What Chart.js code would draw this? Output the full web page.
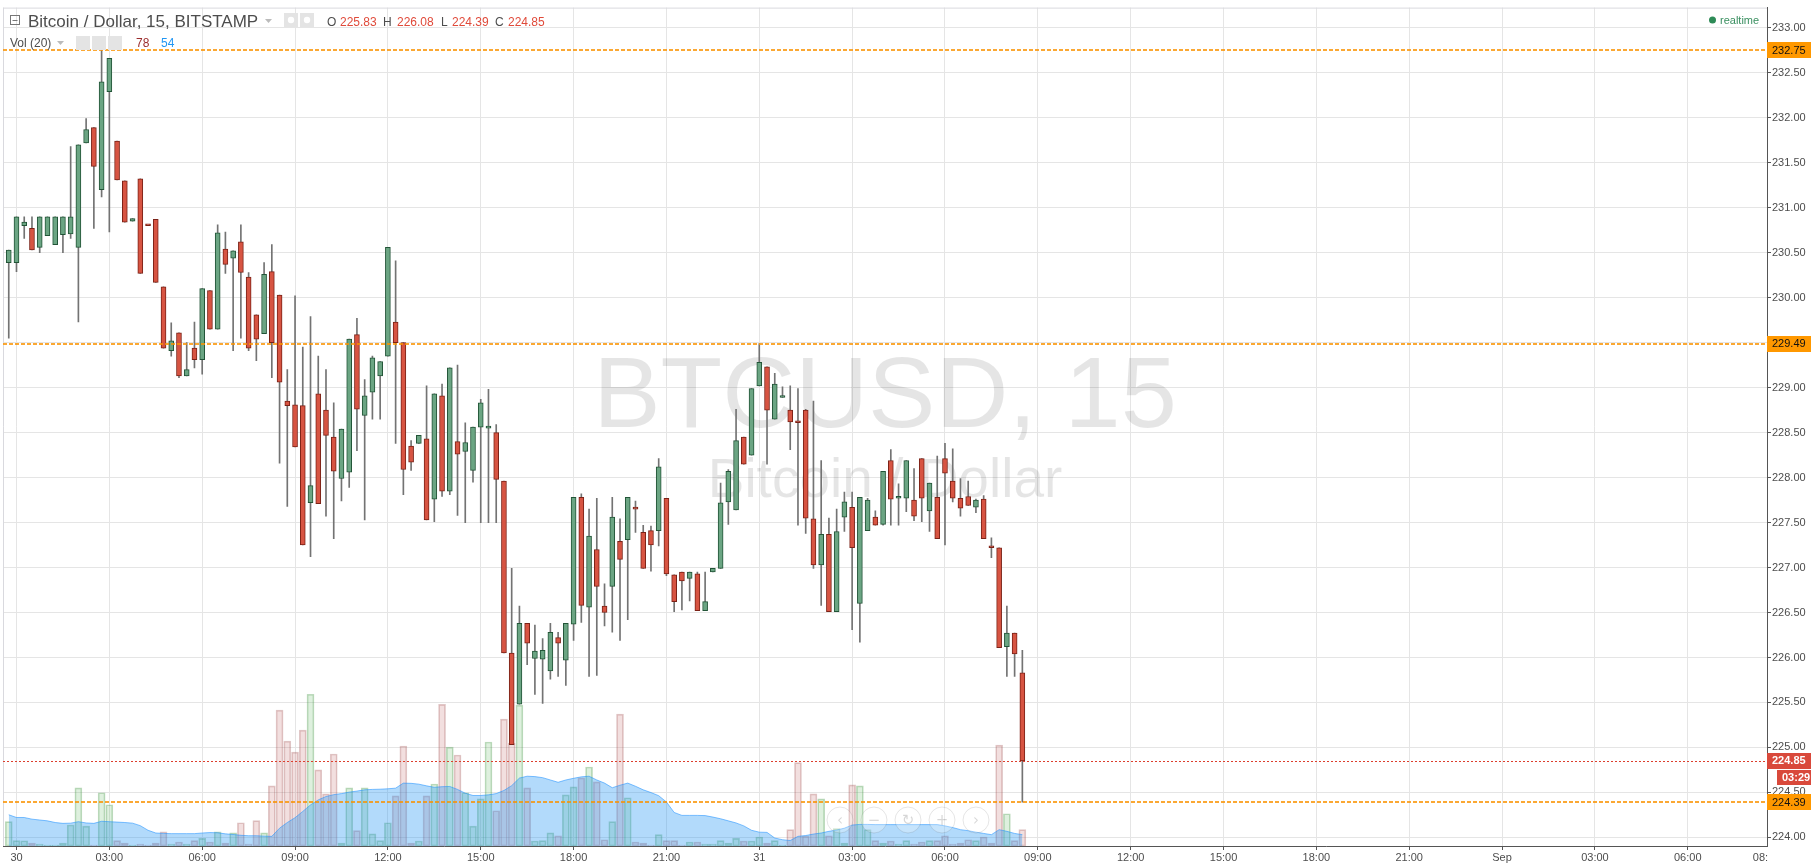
<!DOCTYPE html>
<html>
<head>
<meta charset="utf-8">
<title>BTCUSD, 15</title>
<script src="https://cdn.jsdelivr.net/npm/chart.js@4.4.1/dist/chart.umd.min.js"></script>
<style>
html,body{margin:0;padding:0;background:#fff;overflow:hidden}
#wrap{position:relative;width:1815px;height:863px}
</style>
</head>
<body>
<div id="wrap"><canvas id="chart" width="1815" height="863"></canvas></div>
<script>
// -------- DATA ----------
// 15 minute bars, first bar opens at 29 Aug 23:45 (hours counted from 30 Aug 00:00)
const firstBarHour = -0.25;
const barStepHours = 0.25;

const opens = [230.39,230.39,230.80,230.77,230.56,230.69,230.59,230.70,230.71,230.56,
  231.72,231.89,231.20,232.29,231.74,231.30,230.85,231.32,230.81,230.87,
  230.12,229.41,229.61,229.13,229.44,229.31,230.08,229.65,230.54,230.44,
  230.62,230.23,229.81,229.60,230.29,230.03,228.85,228.81,228.80,227.72,
  228.93,228.75,228.45,227.99,228.06,229.59,228.69,228.95,229.13,229.35,
  229.73,229.50,228.35,228.38,228.43,227.76,228.91,227.85,228.40,228.29,
  228.08,228.56,228.55,228.50,227.96,226.05,225.48,226.38,225.99,225.98,
  225.85,226.22,225.97,226.37,227.78,226.56,227.20,226.57,226.79,227.29,
  227.31,227.67,227.39,227.41,227.41,227.77,226.92,226.95,226.88,226.93,
  226.52,226.95,226.99,227.73,227.64,228.45,228.25,229.02,229.23,228.65,
  228.89,228.75,228.62,228.75,227.54,227.03,227.37,226.51,227.56,227.67,
  226.60,227.41,227.56,227.48,228.19,227.77,227.77,227.75,228.21,227.63,
  227.78,228.21,227.96,227.77,227.79,227.67,227.76,227.23,227.22,226.12,
  226.27,225.83];
const highs = [230.53,230.90,230.90,230.90,230.90,230.90,230.90,230.90,231.68,231.70,
  231.99,231.89,232.75,232.66,231.74,231.30,230.88,231.32,230.81,230.87,
  230.12,229.72,229.61,229.50,229.73,230.10,230.08,230.81,230.73,230.52,
  230.81,230.28,229.81,230.39,230.59,230.03,229.20,230.02,229.45,229.79,
  229.35,229.20,228.83,228.54,229.54,229.77,229.09,229.35,229.29,230.56,
  230.41,229.50,228.41,228.47,229.02,228.93,229.04,229.22,229.25,228.61,
  228.56,228.87,228.98,228.59,227.96,226.99,226.57,226.38,226.36,226.21,
  226.38,226.28,226.38,227.78,227.82,227.65,227.77,226.82,227.78,227.54,
  227.78,227.74,227.47,227.46,228.21,227.77,226.92,226.95,226.95,226.95,
  226.95,226.99,227.94,228.09,228.76,228.45,228.99,229.49,229.23,229.16,
  229.01,229.02,228.99,228.76,228.85,228.19,227.55,227.65,227.84,227.84,
  227.78,227.77,227.63,228.07,228.31,227.93,228.19,228.10,228.21,227.94,
  228.24,228.38,228.32,227.99,227.96,227.76,227.80,227.33,227.22,226.57,
  226.27,226.08];
const lows = [229.55,230.29,230.66,230.53,230.50,230.69,230.59,230.50,230.66,229.73,
  231.72,230.77,231.12,230.73,231.31,230.84,230.85,230.27,230.80,230.17,
  229.44,229.35,229.11,229.13,229.22,229.15,229.65,229.65,230.27,229.41,
  229.55,229.41,229.30,229.60,229.11,228.16,227.68,228.34,227.25,227.12,
  227.71,227.57,227.32,227.74,227.89,228.30,227.53,228.65,228.65,229.35,
  228.38,227.81,228.08,228.38,227.53,227.51,227.79,227.81,227.58,227.50,
  227.95,227.50,227.50,227.50,226.05,225.03,225.48,225.92,225.59,225.49,
  225.76,225.79,225.69,226.19,226.39,225.79,225.80,226.35,226.28,226.19,
  226.42,227.39,226.99,226.96,227.24,226.91,226.51,226.53,226.63,226.52,
  226.52,226.95,226.99,227.48,227.64,228.15,228.25,229.02,228.15,228.65,
  228.89,228.31,227.47,227.38,226.99,226.58,226.51,226.51,227.40,226.31,
  226.17,227.41,227.47,227.47,227.47,227.47,227.62,227.52,227.51,227.40,
  227.32,227.25,227.73,227.57,227.69,227.61,227.32,227.11,226.11,225.79,
  225.79,224.39];
const closes = [230.53,230.90,230.84,230.53,230.90,230.90,230.90,230.90,230.90,231.70,
  231.87,231.46,232.40,232.66,231.31,230.84,230.88,230.27,230.80,230.17,
  229.44,229.52,229.13,229.20,229.31,230.10,229.65,230.72,230.37,230.52,
  230.28,229.44,229.54,230.26,229.50,229.06,228.80,228.34,227.25,227.91,
  227.71,228.47,228.07,228.54,229.54,228.76,228.91,229.33,229.29,230.56,
  229.50,228.09,228.17,228.47,227.53,228.93,227.85,229.22,228.26,228.39,
  228.56,228.83,228.57,227.98,226.05,225.03,226.38,226.16,226.07,226.08,
  226.28,226.16,226.38,227.78,226.58,227.35,226.79,226.50,227.56,227.09,
  227.78,227.65,226.99,227.25,228.12,226.93,226.62,226.85,226.95,226.52,
  226.62,226.99,227.72,228.07,228.41,228.15,228.99,229.28,228.75,229.04,
  228.91,228.62,228.61,227.55,227.03,227.37,226.51,227.40,227.73,227.22,
  227.78,227.75,227.47,228.07,227.76,227.77,228.19,227.57,227.77,227.94,
  227.32,228.05,227.77,227.66,227.69,227.75,227.32,227.22,226.11,226.27,
  226.04,224.85];
const volumes = [116,26,25,14,9,4,4,14,100,277,
  95,4,254,197,26,14,4,9,4,14,
  68,9,19,9,26,36,19,68,14,63,
  111,9,121,63,287,648,500,448,553,724,
  363,249,439,14,277,73,277,58,26,111,
  239,477,14,24,239,296,676,472,434,254,
  95,225,496,168,605,491,672,277,24,26,
  63,49,244,282,325,377,306,30,116,629,
  230,19,14,4,54,26,26,4,19,19,
  9,9,26,14,36,24,24,43,14,26,
  4,78,398,47,249,225,49,83,14,292,
  287,78,26,14,24,9,26,9,19,26,
  26,49,9,14,30,26,43,14,481,154,
  26,78];
// Vol(20) moving average, read from the blue area
const volAvg = [149,136,136,128,124,120,112,108,109,116,
  110,108,118,116,114,112,109,97,75,62,
  60,59,59,59,59,62,64,63,58,55,
  51,49,49,47,46,85,112,135,165,196,
  220,236,245,250,257,262,268,270,271,273,
  276,300,299,295,287,280,283,284,270,252,
  241,241,244,250,265,288,324,333,331,326,
  315,304,315,323,330,333,315,300,278,290,
  300,285,268,255,240,210,160,146,146,146,
  145,138,130,120,110,96,75,66,65,38,
  30,26,46,50,57,62,70,76,85,100,
  103,103,102,102,102,102,102,102,102,102,
  102,96,88,78,73,66,60,54,78,70,
  60,54];

const priceTicks = [224.00,224.50,225.00,225.50,226.00,226.50,227.00,227.50,228.00,228.50,
  229.00,229.50,230.00,230.50,231.00,231.50,232.00,232.50,233.00];
const timeTicks  = [0,3,6,9,12,15,18,21,24,27,30,33,36,39,42,45,48,51,54,56.35];
const timeLabels = ['30','03:00','06:00','09:00','12:00','15:00','18:00','21:00',
  '31','03:00','06:00','09:00','12:00','15:00','18:00','21:00','Sep','03:00','06:00','08:'];

const levelLines = [232.75, 229.49, 224.39];   // orange horizontal lines
const countdown  = '03:29';
const symbolTitle = 'Bitcoin / Dollar, 15, BITSTAMP';
const watermark  = 'BTCUSD, 15';
const watermarkSub = 'Bitcoin / Dollar';

// -------- STYLE ----------
const FONT = '"Liberation Sans", Arial, sans-serif';
const GRID = '#e5e5e5';
const AXIS = '#555';
const RED_FILL = '#d75442', RED_LINE = '#7b2217';
const GRN_FILL = '#6ba583', GRN_LINE = '#225437';

const barHours = opens.map((_, i) => firstBarHour + i * barStepHours);
const isUp = opens.map((o, i) => closes[i] >= o);

const bodies = {
  label: 'body', order: 0, grouped: false,
  data: barHours.map((t, i) => ({x: t, y: [opens[i], closes[i]]})),
  backgroundColor: isUp.map(u => u ? GRN_FILL : RED_FILL),
  borderColor: isUp.map(u => u ? GRN_LINE : RED_LINE),
  borderWidth: 1, borderSkipped: false, barThickness: 5, minBarLength: 2
};
const wicks = {
  label: 'wick', order: 1, grouped: false,
  data: barHours.map((t, i) => ({x: t, y: [lows[i], highs[i]]})),
  backgroundColor: '#737373', borderWidth: 0, barThickness: 1
};
// blue Vol(20) area sits over the volume bars
const volMa = {
  type: 'line', label: 'vol ma', order: 2, yAxisID: 'yv',
  data: barHours.map((t, i) => ({x: t, y: volAvg[i]})),
  borderColor: 'rgba(30,144,255,0.55)', borderWidth: 1,
  backgroundColor: 'rgba(33,150,243,0.35)', fill: 'origin',
  pointRadius: 0, tension: 0
};
const volBars = {
  label: 'volume', order: 3, grouped: false, yAxisID: 'yv',
  data: barHours.map((t, i) => ({x: t, y: volumes[i]})),
  backgroundColor: isUp.map(u => u ? 'rgba(90,180,90,0.2)' : 'rgba(190,95,95,0.2)'),
  borderColor: isUp.map(u => u ? 'rgba(70,150,70,0.35)' : 'rgba(160,80,80,0.32)'),
  borderWidth: 1, borderSkipped: false, barThickness: 7
};

// -------- OVERLAY PLUGIN ----------
function axisBox(ctx, y, h, x0, x1, bg, fg, text, bold){
  ctx.fillStyle = bg;
  ctx.fillRect(x0, Math.round(y - h/2), x1 - x0, h);
  ctx.fillStyle = fg;
  ctx.font = (bold ? 'bold ' : '') + '11px ' + FONT;
  ctx.textAlign = 'left';
  ctx.textBaseline = 'middle';
  ctx.fillText(text, x0 + 5, y + 0.5);
}

const overlay = {
  id: 'overlay',
  beforeDatasetsDraw(chart){
    const {ctx, chartArea:a} = chart;
    ctx.save();
    // frame
    ctx.strokeStyle = '#d9d9de'; ctx.lineWidth = 1;
    ctx.beginPath();
    ctx.moveTo(a.left + 0.5, a.top); ctx.lineTo(a.left + 0.5, a.bottom);
    ctx.moveTo(a.left, a.top + 0.5); ctx.lineTo(a.right, a.top + 0.5);
    ctx.stroke();
    // watermark
    const cx = (a.left + a.right) / 2;
    ctx.fillStyle = 'rgba(0,0,0,0.1)';
    ctx.textAlign = 'center';
    ctx.textBaseline = 'alphabetic';
    ctx.font = '101px ' + FONT;
    ctx.fillText(watermark, cx, 427);
    ctx.font = '55px ' + FONT;
    ctx.fillText(watermarkSub, cx, 497);
    ctx.restore();
  },
  afterDatasetsDraw(chart){
    const {ctx, chartArea:a, scales:{y}} = chart;
    ctx.save();
    ctx.strokeStyle = 'rgba(250,146,0,0.8)'; ctx.lineWidth = 2; ctx.setLineDash([4,2]);
    levelLines.forEach(v => {
      const py = Math.round(y.getPixelForValue(v));
      ctx.beginPath(); ctx.moveTo(a.left, py); ctx.lineTo(a.right, py); ctx.stroke();
    });
    const last = closes[closes.length - 1];
    const pl = Math.round(y.getPixelForValue(last)) + 0.5;
    ctx.strokeStyle = '#dc3f2e'; ctx.lineWidth = 1; ctx.setLineDash([2,2]);
    ctx.beginPath(); ctx.moveTo(a.left, pl); ctx.lineTo(a.right, pl); ctx.stroke();
    ctx.setLineDash([]);
    // navigation buttons
    const glyphs = ['\u2039', '\u2212', '\u21bb', '+', '\u203a'];
    glyphs.forEach((g, i) => {
      const bx = 840 + i * 34, by = 820;
      ctx.beginPath(); ctx.arc(bx, by, 13, 0, Math.PI*2);
      ctx.fillStyle = 'rgba(255,255,255,0.25)'; ctx.fill();
      ctx.strokeStyle = 'rgba(0,0,0,0.1)'; ctx.lineWidth = 1; ctx.stroke();
      ctx.fillStyle = 'rgba(0,0,0,0.16)';
      ctx.font = '15px "DejaVu Sans", sans-serif';
      ctx.textAlign = 'center'; ctx.textBaseline = 'middle';
      ctx.fillText(g, bx, by + 1);
    });
    ctx.restore();
  },
  afterDraw(chart){
    const {ctx, chartArea:a, scales:{y}} = chart;
    ctx.save();
    const ax = a.right, ex = 1811;
    levelLines.forEach(v => {
      axisBox(ctx, y.getPixelForValue(v), 16, ax, ex, '#ff9800', '#111', v.toFixed(2), false);
    });
    const last = closes[closes.length - 1];
    const pl = y.getPixelForValue(last);
    axisBox(ctx, pl, 16, ax, ex, '#d9493b', '#fff', last.toFixed(2), true);
    axisBox(ctx, pl + 17, 15, ax + 10, ex, '#d9493b', '#fff', countdown, true);

    // header line 1
    ctx.textAlign = 'left'; ctx.textBaseline = 'alphabetic';
    ctx.strokeStyle = '#777'; ctx.lineWidth = 1;
    ctx.strokeRect(10.5, 15.5, 9, 9);
    ctx.beginPath(); ctx.moveTo(12.5, 20.5); ctx.lineTo(17.5, 20.5); ctx.stroke();
    ctx.fillStyle = '#4d4d4d';
    ctx.font = '17px ' + FONT;
    ctx.fillText(symbolTitle, 28, 26.5);
    const tri = (x, yy) => {
      ctx.fillStyle = '#bbb';
      ctx.beginPath(); ctx.moveTo(x, yy); ctx.lineTo(x + 7, yy); ctx.lineTo(x + 3.5, yy + 4); ctx.fill();
    };
    const iconBox = x => { ctx.fillStyle = '#e4e4e4'; ctx.fillRect(x, 13, 14, 14);
      ctx.fillStyle = '#fff'; ctx.beginPath(); ctx.arc(x + 7, 20, 3.2, 0, Math.PI*2); ctx.fill(); };
    tri(265, 19);
    iconBox(284); iconBox(300);

    const n = closes.length - 1;
    const ohlc = [['O', 327, '#4d4d4d'], [opens[n].toFixed(2), 340, '#e04a3a'],
                  ['H', 383, '#4d4d4d'], [highs[n].toFixed(2), 397, '#e04a3a'],
                  ['L', 441, '#4d4d4d'], [lows[n].toFixed(2), 452, '#e04a3a'],
                  ['C', 495, '#4d4d4d'], [closes[n].toFixed(2), 508, '#e04a3a']];
    ctx.font = '12px ' + FONT;
    ohlc.forEach(([t, x, c]) => { ctx.fillStyle = c; ctx.fillText(t, x, 26); });

    // header line 2
    ctx.fillStyle = '#4d4d4d';
    ctx.fillText('Vol (20)', 10, 47);
    tri(57, 41);
    [76, 92, 108].forEach(x => { ctx.fillStyle = '#e4e4e4'; ctx.fillRect(x, 36, 14, 14); });
    ctx.fillStyle = '#9b2d2d'; ctx.fillText(String(volumes[n]), 136, 47);
    ctx.fillStyle = '#2196f3'; ctx.fillText(String(volAvg[n]), 161, 47);

    // realtime flag
    ctx.fillStyle = '#2e8b57';
    ctx.beginPath(); ctx.arc(1712.5, 20, 3.5, 0, Math.PI*2); ctx.fill();
    ctx.fillStyle = '#3a8f60'; ctx.font = '11px ' + FONT;
    ctx.fillText('realtime', 1720, 24);
    ctx.restore();
  }
};

// -------- CHART ----------
const hideLast = (c, col) => (c.tick && c.tick.value > 55) ? 'rgba(0,0,0,0)' : col;

new Chart(document.getElementById('chart'), {
  type: 'bar',
  data: { datasets: [bodies, wicks, volMa, volBars] },
  options: {
    responsive: false, animation: false, devicePixelRatio: 1, events: [],
    layout: { padding: { top: 3, left: 3, right: 0, bottom: 0 } },
    plugins: { legend: { display: false }, tooltip: { enabled: false } },
    scales: {
      x: {
        type: 'linear', min: -0.436, max: 56.56, offset: false,
        grid: { offset: false, color: c => hideLast(c, GRID), tickLength: 4,
                tickColor: c => hideLast(c, AXIS) },
        border: { color: AXIS },
        ticks: { autoSkip: false, maxRotation: 0, padding: 1, color: '#4d4d4d',
                 font: { family: FONT, size: 11 }, callback: (v, i) => timeLabels[i] },
        afterBuildTicks: s => { s.ticks = timeTicks.map(v => ({ value: v })); },
        afterFit: s => { s.height = 17; }
      },
      y: {
        position: 'right', min: 223.904, max: 233.225,
        grid: { color: GRID, tickLength: 4, tickColor: AXIS },
        border: { color: AXIS },
        ticks: { padding: 1, color: '#4d4d4d', font: { family: FONT, size: 11 },
                 callback: v => Number(v).toFixed(2) },
        afterBuildTicks: s => { s.ticks = priceTicks.map(v => ({ value: v })); },
        afterFit: s => { s.width = 48; }
      },
      yv: { display: false, min: 0, max: 4000 }
    }
  },
  plugins: [overlay]
});
</script>
</body>
</html>
